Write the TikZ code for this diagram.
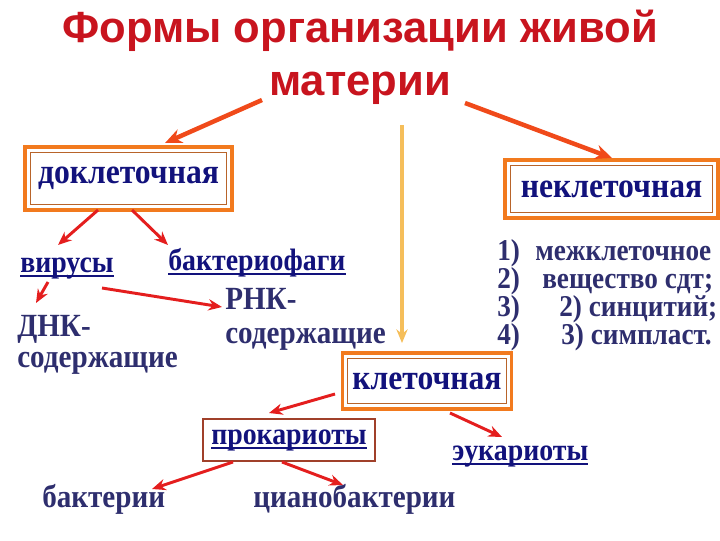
\documentclass[tikz,border=0pt]{standalone}
\usepackage{fontspec}
\setmainfont{Liberation Serif}
\newfontfamily\zagfont{Liberation Sans}
\newfontfamily\telo{Liberation Serif}[FakeStretch=0.9]
\usetikzlibrary{arrows.meta,positioning,calc}
\definecolor{krasny}{HTML}{E41E1E}
\definecolor{alyi}{HTML}{F04A1A}
\definecolor{zhelty}{HTML}{F5BE5A}
\definecolor{oranzh}{HTML}{F27A1E}
\definecolor{korich}{HTML}{B8642A}
\definecolor{bordo}{HTML}{C8141E}
\definecolor{sini}{HTML}{12127C}
\definecolor{grafit}{HTML}{2E2E6E}
\definecolor{kirpich}{HTML}{A0402A}
\tikzset{
  zagolovok/.style={font=\zagfont\bfseries\fontsize{31}{34}\selectfont, text=bordo, inner sep=0pt, anchor=base},
  ramka/.style={draw=oranzh, line width=2.4pt, fill=white, inner sep=0pt, text=sini,
    font=\telo\bfseries\fontsize{25}{27}\selectfont,
    path picture={\draw[korich, line width=0.7pt]
      ([shift={(3.8pt,3.8pt)}]path picture bounding box.south west) rectangle
      ([shift={(-3.8pt,-3.8pt)}]path picture bounding box.north east);}},
  ramkaprok/.style={draw=kirpich, line width=0.8pt, fill=white, inner sep=0pt, text=sini,
    font=\telo\bfseries\fontsize{22}{24}\selectfont, minimum width=4.3cm, minimum height=1.05cm},
  podpis/.style={font=\telo\bfseries\fontsize{23}{22}\selectfont, text=grafit, inner sep=0pt,
    anchor=base west, align=left},
  ssylka/.style={podpis, text=sini, font=\telo\bfseries\fontsize{22}{22}\selectfont},
  punkt/.style={podpis, font=\telo\bfseries\fontsize{21.5}{22}\selectfont},
  strelka/.style={-{Stealth[length=3.4mm,width=2.8mm]}, draw=krasny, line width=2.1pt},
  glavnaya/.style={strelka, draw=alyi, line width=3.2pt, -{Stealth[length=4.2mm,width=3.6mm]}},
  vniz/.style={strelka, draw=zhelty, line width=2.4pt},
}
\newcommand{\podch}[1]{\mbox{\setbox0=\hbox{#1}\rlap{\rule[-3.6pt]{\wd0}{1.6pt}}\box0}}

\begin{document}
\begin{tikzpicture}[x=0.025cm, y=-0.025cm]
  \useasboundingbox (0,0) rectangle (720,540);
  % zagolovok
  \node[zagolovok] (t1) at (360,42) {Формы организации живой};
  \node[zagolovok] (t2) at (360,95) {материи};
  % tri formy
  \node[ramka, minimum width=5.175cm, minimum height=1.575cm] (dok) at (128.5,178.5) {доклеточная};
  \node[ramka, minimum width=5.325cm, minimum height=1.45cm] (nekl) at (611.5,189) {неклеточная};
  \node[ramka, minimum width=4.225cm, minimum height=1.4cm] (klet) at (427,381) {клеточная};
  % doklet
  \node[ssylka] (vir) at (20,272) {\podch{вирусы}};
  \node[ssylka] (fag) at (168,270) {\podch{бактериофаги}};
  \node[podpis] (dnk) at (17,367) {ДНК-\\содержащие};
  \node[podpis, font=\telo\bfseries\fontsize{23}{23.5}\selectfont] (rnk) at (225,343) {РНК-\\содержащие};
  % neklet
  \foreach \nom/\tekst/\xo [count=\i] in {1)/межклеточное/535, 2)/вещество сдт;/542,
      3)/2) синцитий;/559, 4)/3) симпласт./561} {
    \node[punkt] (p\i) at (497,{260+28*(\i-1)}) {\nom};
    \node[punkt] (pt\i) at (\xo,{260+28*(\i-1)}) {\tekst};
  }
  % klet
  \node[ramkaprok] (prok) at (289,440) {\podch{прокариоты}};
  \node[ssylka] (euk) at (452,460) {\podch{эукариоты}};
  \node[podpis] (bakt) at (42,507) {бактерии};
  \node[podpis] (cian) at (253,507) {цианобактерии};

  \draw[glavnaya] ($(t2.base)+(-98,5)$) -- ($(dok.center)+(36.5,-35.5)$);
  \draw[glavnaya] ($(t2.base)+(105,8)$) -- ($(nekl.center)+(0.5,-31)$);
  \draw[vniz] ($(t2.base)+(42,30)$) -- ($(klet.center)+(-25,-38)$);
  \draw[strelka] ($(dok.center)+(-30.5,31.5)$) -- ($(vir.base west)+(38,-27)$);
  \draw[strelka] ($(dok.center)+(3.5,31.5)$) -- ($(fag.base west)+(0,-25)$);
  \draw[strelka] ($(vir.base west)+(28,10)$) -- ($(dnk.base west)+(19,-64)$);
  \draw[strelka] ($(vir.base west)+(82,16)$) -- ($(rnk.base west)+(-3,-36)$);
  \draw[strelka] ($(klet.center)+(-92,13)$) -- ($(prok.center)+(-20,-27)$);
  \draw[strelka] ($(klet.center)+(23,32)$) -- ($(euk.base west)+(50,-23)$);
  \draw[strelka] ($(prok.center)+(-56,22)$) -- ($(bakt.base west)+(110,-18)$);
  \draw[strelka] ($(prok.center)+(-7,22)$) -- ($(cian.base west)+(90,-22)$);
\end{tikzpicture}
\end{document}
